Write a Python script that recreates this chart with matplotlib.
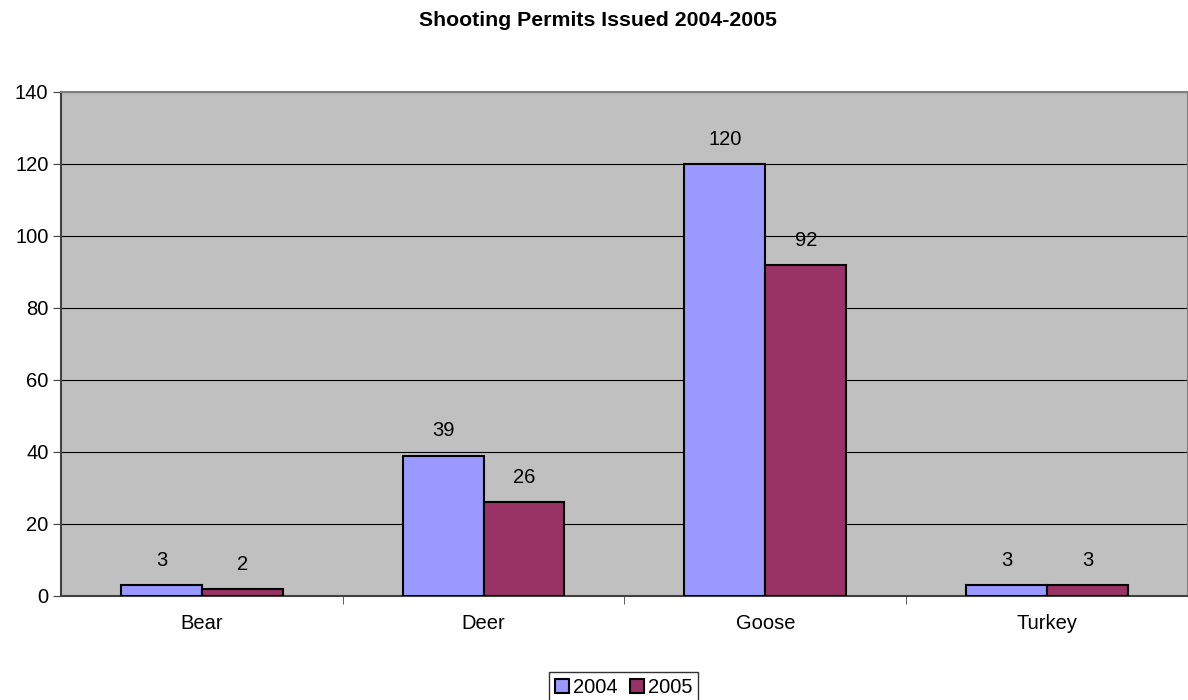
import numpy as np
import matplotlib.pyplot as plt

plt.rcParams['font.family'] = ['Liberation Sans', 'DejaVu Sans']

categories = ['Bear', 'Deer', 'Goose', 'Turkey']
series_names = ['2004', '2005']
permits_2004 = [3, 39, 120, 3]
permits_2005 = [2, 26, 92, 3]
colors = ['#9999FF', '#993366']

fs = 14.5

fig = plt.figure(figsize=(11.88, 7), dpi=100)
ax = fig.add_axes([0.0513, 0.1486, 0.9487, 0.72])
ax.set_facecolor('#C0C0C0')

x = np.arange(len(categories))
w = 0.287
for i, (vals, c) in enumerate(zip([permits_2004, permits_2005], colors)):
    offs = (i - 0.5) * w
    ax.bar(x + offs, vals, w, color=c, edgecolor='black', linewidth=1.5,
           label=series_names[i], zorder=3)
    for xi, v in zip(x + offs, vals):
        ax.annotate(str(v), (xi, v), xytext=(0, 11), textcoords='offset points',
                    ha='center', va='bottom', fontsize=fs)

ax.set_xlim(-0.5, len(categories) - 0.5)
ax.set_ylim(0, 140)
ax.set_yticks(range(0, 141, 20))
ax.yaxis.grid(True, color='black', linewidth=0.8, zorder=0)
ax.set_axisbelow(True)

ax.set_xticks(x)
ax.set_xticklabels(categories)
ax.tick_params(axis='x', length=0, pad=13, labelsize=fs)
ax.set_xticks(np.arange(len(categories) - 1) + 0.5, minor=True)
ax.tick_params(axis='x', which='minor', length=6, direction='out', color='#404040')
ax.tick_params(axis='y', length=6, labelsize=fs, color='#404040', pad=3)

for s in ['top', 'right']:
    ax.spines[s].set_color('#808080')
    ax.spines[s].set_linewidth(1.5)
for s in ['left', 'bottom']:
    ax.spines[s].set_color('#404040')
    ax.spines[s].set_linewidth(1.5)

fig.suptitle('Shooting Permits Issued 2004-2005', fontsize=15.3, fontweight='bold',
             x=0.503, y=0.985)

leg = fig.legend(loc='lower center', bbox_to_anchor=(0.525, -0.005), ncol=2,
                 fontsize=fs, frameon=True, fancybox=False, edgecolor='black',
                 handlelength=0.7, handleheight=0.7, handletextpad=0.2,
                 columnspacing=0.6, borderpad=0.3, borderaxespad=0)
leg.get_frame().set_linewidth(1.0)

fig.savefig('out.png', dpi=100)
